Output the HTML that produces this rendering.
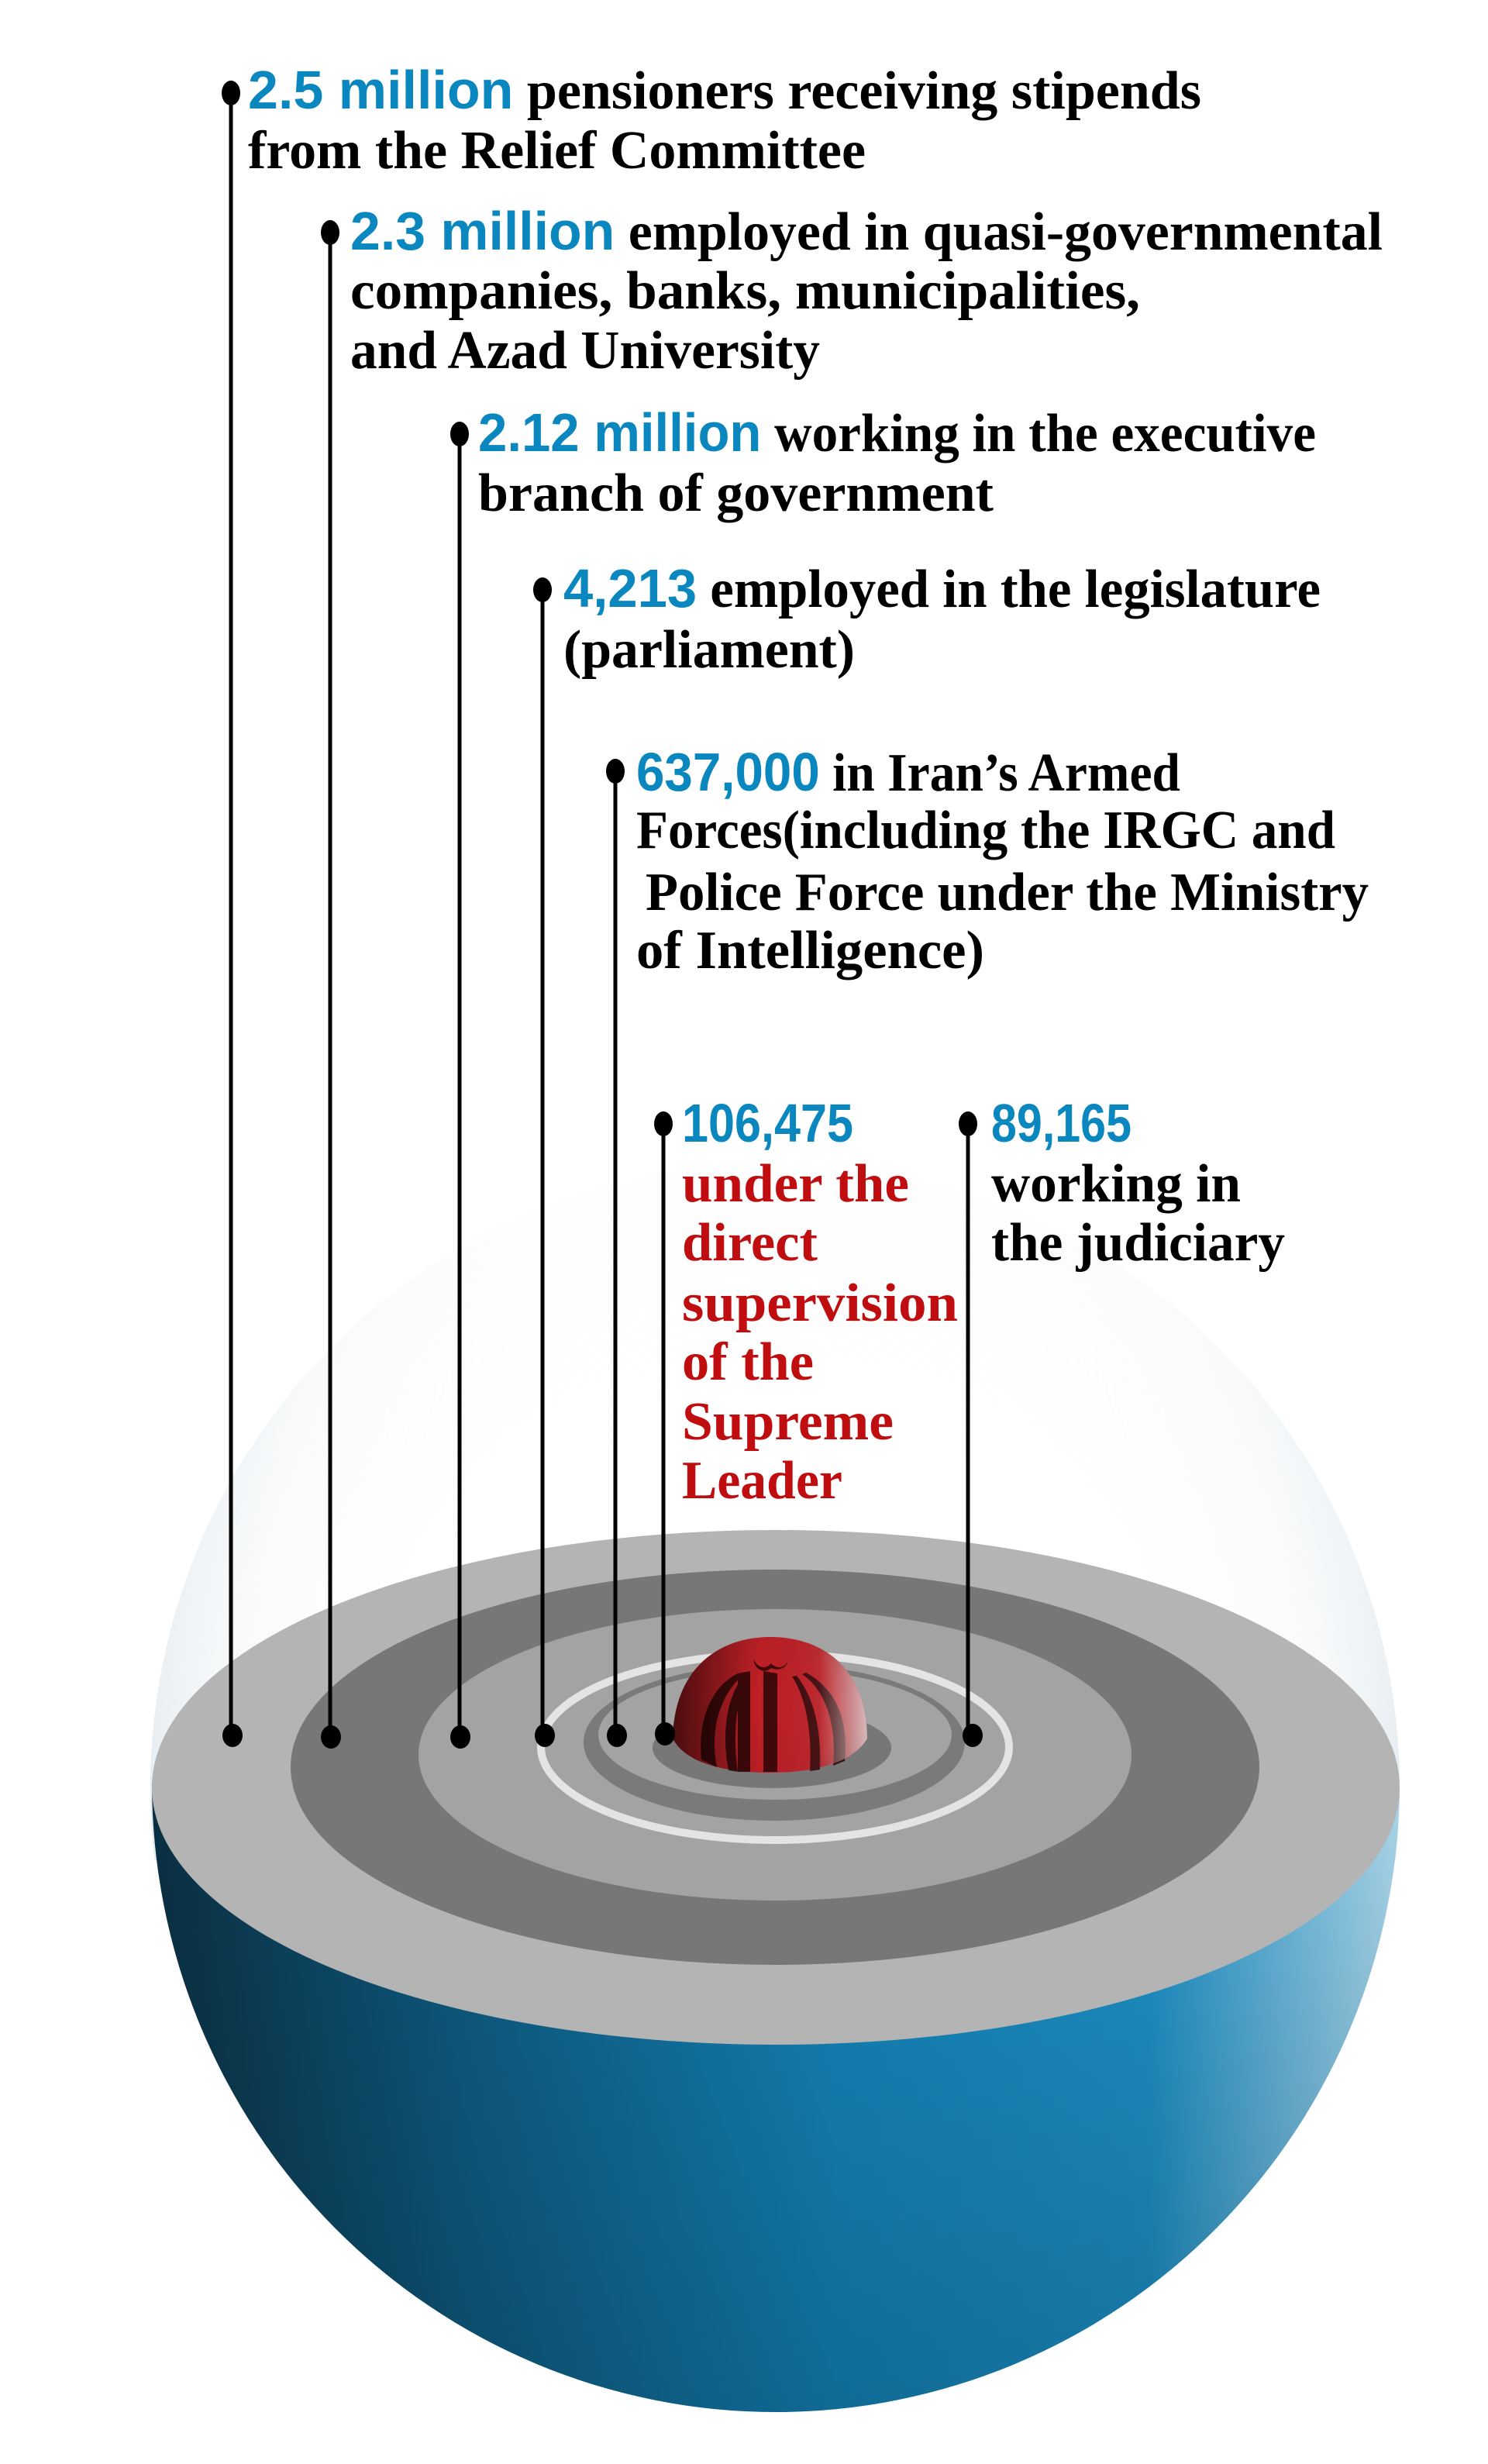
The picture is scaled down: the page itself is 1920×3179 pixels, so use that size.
<!DOCTYPE html>
<html><head><meta charset="utf-8"><style>
html,body{margin:0;padding:0;background:#fff;}
svg{display:block;}
text{font-family:"Liberation Serif",serif;font-weight:bold;font-size:70px;fill:#000;}
.b{fill:#0a87bf;font-family:"Liberation Sans",sans-serif;font-weight:bold;}
.r{fill:#c00d10;}
</style></head><body>
<svg width="1920" height="3179" viewBox="0 0 1920 3179" xmlns="http://www.w3.org/2000/svg">
<defs>
<radialGradient id="halo" cx="1000" cy="2306" r="806" gradientUnits="userSpaceOnUse">
<stop offset="0.6" stop-color="#ffffff" stop-opacity="0"/>
<stop offset="0.9" stop-color="#e8eef2" stop-opacity="0.45"/>
<stop offset="1" stop-color="#d5e0e7" stop-opacity="0.6"/>
</radialGradient>
<linearGradient id="haloFade" x1="0" y1="1500" x2="0" y2="2306" gradientUnits="userSpaceOnUse">
<stop offset="0" stop-color="#fff" stop-opacity="0"/>
<stop offset="0.5" stop-color="#fff" stop-opacity="0.5"/>
<stop offset="1" stop-color="#fff" stop-opacity="1"/>
</linearGradient>
<mask id="hm"><rect x="0" y="1400" width="1920" height="1000" fill="url(#haloFade)"/></mask>
<linearGradient id="blue" x1="196" y1="0" x2="1806" y2="0" gradientUnits="userSpaceOnUse">
<stop offset="0" stop-color="#0b2f42"/>
<stop offset="0.25" stop-color="#0e5c82"/>
<stop offset="0.55" stop-color="#1485bb"/>
<stop offset="0.8" stop-color="#1d90c6"/>
<stop offset="1" stop-color="#a8d4e8"/>
</linearGradient>
<linearGradient id="blueV" x1="0" y1="2306" x2="0" y2="3112" gradientUnits="userSpaceOnUse">
<stop offset="0" stop-color="#000" stop-opacity="0"/>
<stop offset="1" stop-color="#000" stop-opacity="0.2"/>
</linearGradient>
<radialGradient id="dome" cx="960" cy="2200" r="200" gradientUnits="userSpaceOnUse">
<stop offset="0" stop-color="#c42026"/>
<stop offset="0.6" stop-color="#b51f25"/>
<stop offset="1" stop-color="#4a0a0c"/>
</radialGradient>
<linearGradient id="domeL" x1="868" y1="0" x2="1119" y2="0" gradientUnits="userSpaceOnUse">
<stop offset="0" stop-color="#000" stop-opacity="0.6"/>
<stop offset="0.45" stop-color="#000" stop-opacity="0"/>
<stop offset="0.75" stop-color="#fff" stop-opacity="0.05"/>
<stop offset="1" stop-color="#fff" stop-opacity="0.7"/>
</linearGradient>
</defs>

<circle cx="1000" cy="2306" r="806" fill="url(#halo)" mask="url(#hm)"/>
<path d="M196 2300 A805 812 0 0 0 1806 2300 Z" fill="url(#blue)"/>
<path d="M196 2300 A805 812 0 0 0 1806 2300 Z" fill="url(#blueV)"/>
<ellipse cx="1001" cy="2306" rx="805" ry="332" fill="#b4b4b4"/>
<ellipse cx="1000" cy="2280" rx="625" ry="255" fill="#777"/>
<ellipse cx="1000" cy="2264" rx="460" ry="188" fill="#a3a3a3"/>
<ellipse cx="1000" cy="2254" rx="302" ry="120" fill="#a3a3a3" stroke="#e4e4e4" stroke-width="10"/>
<ellipse cx="999" cy="2248" rx="246" ry="101" fill="#7a7a7a"/>
<ellipse cx="1000" cy="2238" rx="228" ry="84" fill="#a3a3a3"/>
<ellipse cx="996" cy="2255" rx="154" ry="52" fill="#777"/>
<path d="M868 2243 C870 2150 930 2112 994 2112 C1060 2112 1118 2150 1119 2243 C1100 2275 1050 2287 994 2287 C935 2287 885 2275 868 2243 Z" fill="url(#dome)"/>
<g fill="#2a0506" opacity="0.85">
<path d="M952 2159 L968 2156 L968 2286 L952 2286 Z"/>
<path d="M985 2156 L1003 2159 L1003 2286 L985 2286 Z"/>
<path d="M952 2159 C920 2175 900 2215 905 2270 L925 2280 C915 2230 930 2185 960 2160 Z"/>
<path d="M960 2162 C940 2185 930 2230 940 2284 L952 2286 C945 2235 950 2195 965 2165 Z"/>
<path d="M1035 2160 C1065 2180 1080 2225 1075 2278 L1090 2272 C1095 2220 1080 2180 1040 2158 Z"/>
<path d="M1022 2163 C1040 2190 1048 2235 1045 2285 L1058 2283 C1060 2230 1050 2190 1028 2162 Z"/>
<path d="M972 2141 C980 2155 990 2152 995 2146 C1000 2152 1012 2155 1018 2141 C1012 2160 995 2152 995 2152 C990 2158 975 2158 972 2141 Z"/>
</g>
<path d="M868 2243 C870 2150 930 2112 994 2112 C1060 2112 1118 2150 1119 2243 C1100 2275 1050 2287 994 2287 C935 2287 885 2275 868 2243 Z" fill="url(#domeL)"/>

<g stroke="#000" stroke-width="5">
<line x1="298" y1="120" x2="298" y2="2232"/>
<line x1="426" y1="300" x2="426" y2="2236"/>
<line x1="593" y1="560" x2="593" y2="2236"/>
<line x1="700" y1="761" x2="700" y2="2236"/>
<line x1="794" y1="995" x2="794" y2="2236"/>
<line x1="856" y1="1450" x2="856" y2="2236"/>
<line x1="1249" y1="1450" x2="1249" y2="2236"/>
</g>
<g fill="#000">
<ellipse cx="298" cy="120" rx="12" ry="16"/>
<ellipse cx="426" cy="300" rx="12" ry="16"/>
<ellipse cx="593" cy="560" rx="12" ry="16"/>
<ellipse cx="700" cy="761" rx="12" ry="16"/>
<ellipse cx="794" cy="995" rx="12" ry="16"/>
<ellipse cx="856" cy="1450" rx="12" ry="16"/>
<ellipse cx="1249" cy="1450" rx="12" ry="16"/>
<ellipse cx="300" cy="2239" rx="13" ry="15"/>
<ellipse cx="427" cy="2241" rx="13" ry="15"/>
<ellipse cx="594" cy="2241" rx="13" ry="15"/>
<ellipse cx="703" cy="2239" rx="13" ry="15"/>
<ellipse cx="796" cy="2239" rx="13" ry="15"/>
<ellipse cx="858" cy="2237" rx="13" ry="15"/>
<ellipse cx="1255" cy="2239" rx="13" ry="15"/>
</g>

<text x="320" y="140" textLength="1230" lengthAdjust="spacingAndGlyphs"><tspan class="b">2.5 million</tspan> pensioners receiving stipends</text>
<text x="320" y="217" textLength="797" lengthAdjust="spacingAndGlyphs">from the Relief Committee</text>

<text x="452" y="322" textLength="1332" lengthAdjust="spacingAndGlyphs"><tspan class="b">2.3 million</tspan> employed in quasi-governmental</text>
<text x="452" y="398" textLength="1019" lengthAdjust="spacingAndGlyphs">companies, banks, municipalities,</text>
<text x="452" y="475" textLength="606" lengthAdjust="spacingAndGlyphs">and Azad University</text>

<text x="617" y="582" textLength="1081" lengthAdjust="spacingAndGlyphs"><tspan class="b">2.12 million</tspan> working in the executive</text>
<text x="617" y="659" textLength="665" lengthAdjust="spacingAndGlyphs">branch of government</text>

<text x="727" y="783" textLength="977" lengthAdjust="spacingAndGlyphs"><tspan class="b">4,213</tspan> employed in the legislature</text>
<text x="727" y="861" textLength="376" lengthAdjust="spacingAndGlyphs">(parliament)</text>

<text x="821" y="1020" textLength="702" lengthAdjust="spacingAndGlyphs"><tspan class="b">637,000</tspan> in Iran’s Armed</text>
<text x="821" y="1094" textLength="902" lengthAdjust="spacingAndGlyphs">Forces(including the IRGC and</text>
<text x="833" y="1174" textLength="933" lengthAdjust="spacingAndGlyphs">Police Force under the Ministry</text>
<text x="821" y="1249" textLength="449" lengthAdjust="spacingAndGlyphs">of Intelligence)</text>

<text x="880" y="1473" textLength="221" lengthAdjust="spacingAndGlyphs" class="b">106,475</text>
<text x="880" y="1550" textLength="293" lengthAdjust="spacingAndGlyphs" class="r">under the</text>
<text x="880" y="1626" textLength="175" lengthAdjust="spacingAndGlyphs" class="r">direct</text>
<text x="880" y="1704" textLength="356" lengthAdjust="spacingAndGlyphs" class="r">supervision</text>
<text x="880" y="1780" textLength="170" lengthAdjust="spacingAndGlyphs" class="r">of the</text>
<text x="880" y="1857" textLength="273" lengthAdjust="spacingAndGlyphs" class="r">Supreme</text>
<text x="880" y="1933" textLength="207" lengthAdjust="spacingAndGlyphs" class="r">Leader</text>

<text x="1279" y="1473" textLength="181" lengthAdjust="spacingAndGlyphs" class="b">89,165</text>
<text x="1279" y="1550" textLength="322" lengthAdjust="spacingAndGlyphs">working in</text>
<text x="1279" y="1626" textLength="379" lengthAdjust="spacingAndGlyphs">the judiciary</text>
</svg>
</body></html>
